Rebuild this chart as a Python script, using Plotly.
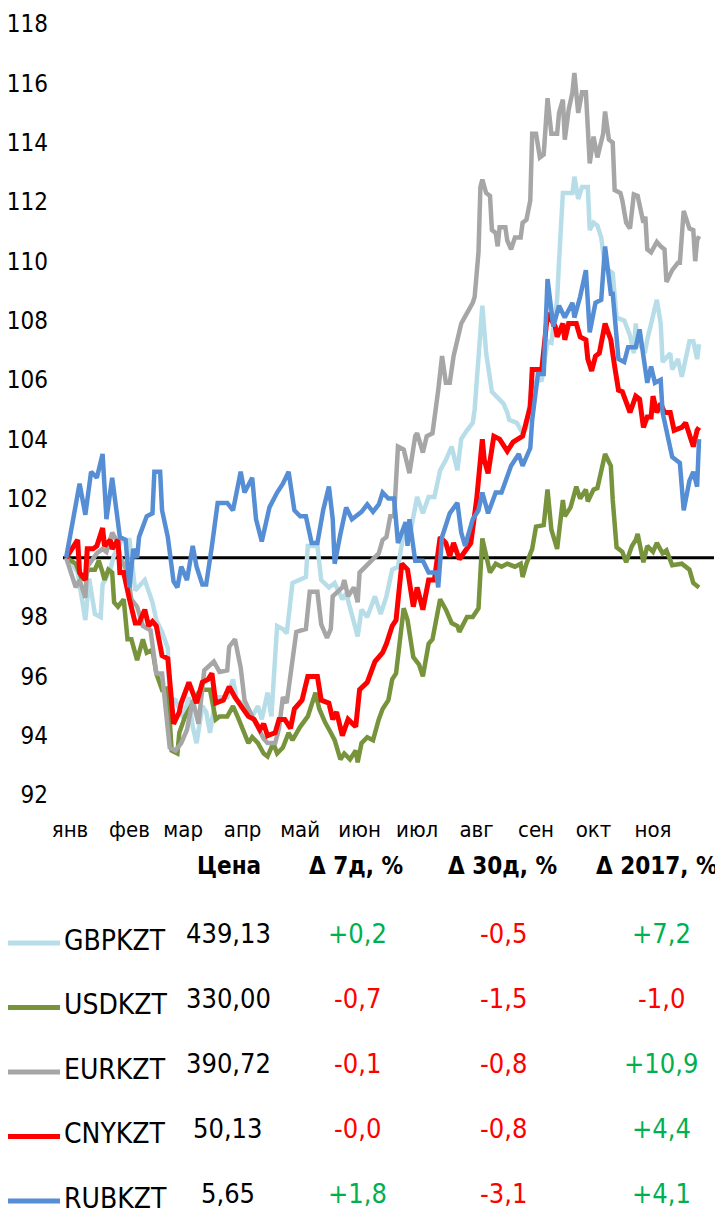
import pandas as pd
import plotly.graph_objects as go

# ---------------- data ----------------
BASE = pd.Timestamp("2017-01-01")   # day offsets below are days since 2017-01-01

months = ["янв", "фев", "мар", "апр", "май", "июн", "июл", "авг", "сен", "окт", "ноя"]
month_starts = ["2017-01-01", "2017-02-01", "2017-03-01", "2017-04-01", "2017-05-01", "2017-06-01",
                "2017-07-01", "2017-08-01", "2017-09-01", "2017-10-01", "2017-11-01"]
y_ticks = [92, 94, 96, 98, 100, 102, 104, 106, 108, 110, 112, 114, 116, 118]

gbp_day = [-2, 1, 4, 8, 10, 13, 16, 17, 21, 23, 27, 31, 34, 39, 43, 45, 48, 51, 52, 55,
           59, 62, 64, 66, 69, 71, 73, 76, 82, 85, 87, 92, 95, 98, 100, 103, 105, 108, 111, 113,
           116, 123, 124, 129, 131, 135, 138, 142, 144, 147, 150, 152, 155, 159, 162, 165, 168, 171, 175, 177,
           181, 184, 187, 190, 193, 196, 199, 202, 204, 207, 210, 211, 214, 215, 217, 220, 223, 226, 228, 229,
           233, 236, 238, 241, 246, 249, 251, 254, 255, 257, 262, 263, 265, 267, 270, 271, 273, 275, 277, 279,
           283, 285, 289, 292, 294, 295, 296, 300, 301, 304, 306, 308, 309, 313, 314, 317, 319, 323, 325, 327,
           328]
gbp_val = [100.0, 99.8, 99.5, 97.9, 99.3, 98.1, 98.0, 99.1, 99.6, 100.1, 100.6, 100.6, 98.9, 99.25, 98.5,
           97.9, 97.5, 96.95, 95.3, 95.2, 94.6, 95.3, 94.3, 93.75, 95.0, 94.8, 94.1, 95.3, 95.3, 95.9,
           95.2, 95.0, 94.65, 95.0, 94.55, 95.45, 94.65, 97.7, 97.6, 97.45, 99.15, 99.35, 100.4, 100.4, 99.25,
           99.0, 99.15, 98.6, 98.8, 98.0, 97.35, 98.25, 98.0, 98.7, 98.1, 98.7, 99.6, 99.7, 101.2, 100.7,
           102.05, 101.5, 102.05, 102.05, 102.95, 103.3, 103.75, 102.95, 104.0, 104.3, 104.55, 105.0, 108.0, 108.5, 106.9,
           105.6, 105.4, 105.2, 104.9, 104.65, 104.55, 104.2, 104.4, 105.9, 106.0, 107.3, 107.25, 108.7, 110.0, 112.3,
           112.3, 112.85, 112.1, 112.5, 112.5, 111.05, 111.3, 111.2, 110.8, 109.8, 109.6, 108.1, 108.0, 107.5, 106.9,
           107.9, 107.2, 107.0, 107.35, 108.1, 108.7, 107.9, 106.6, 106.9, 106.35, 106.7, 106.1, 107.3, 107.3, 106.7,
           107.2]

usd_day = [-2, 3, 6, 10, 13, 15, 17, 18, 20, 22, 23, 25, 28, 30, 32, 35, 38, 40, 43, 45,
           48, 51, 53, 56, 57, 60, 64, 67, 70, 73, 76, 78, 82, 85, 88, 90, 93, 95, 98, 101,
           103, 106, 108, 111, 114, 116, 120, 124, 128, 130, 133, 136, 138, 141, 143, 146, 149, 150, 152, 155,
           158, 161, 163, 166, 168, 170, 174, 176, 179, 182, 184, 187, 189, 193, 196, 199, 202, 203, 207, 210,
           213, 215, 217, 219, 222, 225, 228, 232, 235, 236, 238, 241, 243, 247, 249, 251, 254, 257, 258, 261,
           264, 266, 269, 270, 273, 275, 279, 282, 283, 285, 288, 290, 293, 295, 296, 299, 301, 304, 306, 309,
           311, 314, 319, 323, 325, 328]
usd_val = [100.0, 99.8, 99.3, 99.6, 99.6, 99.9, 99.5, 99.25, 99.6, 99.5, 98.5, 98.35, 98.6, 97.25, 97.25,
           96.55, 97.25, 96.8, 96.9, 96.1, 95.55, 95.6, 93.5, 93.4, 94.1, 94.65, 95.1, 95.45, 95.55, 95.55,
           94.55, 94.65, 94.65, 95.0, 94.55, 94.2, 93.75, 93.95, 93.75, 93.4, 93.3, 93.75, 93.4, 93.6, 94.1,
           93.85, 94.3, 94.65, 95.45, 94.9, 94.45, 94.1, 93.85, 93.2, 93.4, 93.2, 93.5, 93.1, 93.75, 93.95,
           93.85, 94.55, 94.9, 95.2, 95.9, 96.1, 98.3, 97.9, 96.65, 96.4, 96.0, 97.1, 97.25, 98.6, 98.25,
           97.8, 97.7, 97.5, 98.0, 98.0, 98.3, 100.65, 100.05, 99.5, 99.8, 99.7, 99.8, 99.7, 99.8, 99.35,
           99.8, 100.3, 101.05, 101.1, 102.3, 100.95, 100.3, 101.95, 101.4, 101.7, 102.4, 102.0, 102.3, 101.9, 102.3,
           102.35, 103.5, 103.1, 101.95, 100.35, 100.2, 99.85, 100.4, 100.6, 100.8, 99.85, 100.4, 100.2, 100.5, 100.15,
           100.25, 99.75, 99.8, 99.6, 99.15, 99.0]

eur_day = [-2, 3, 5, 8, 9, 14, 17, 19, 22, 25, 26, 30, 32, 35, 38, 42, 45, 48, 52, 55,
           58, 61, 64, 67, 70, 75, 78, 82, 83, 86, 89, 91, 95, 101, 103, 107, 109, 111, 113, 116,
           118, 123, 125, 129, 131, 134, 136, 137, 142, 143, 145, 148, 150, 151, 154, 158, 161, 163, 165, 167,
           169, 171, 174, 177, 180, 181, 184, 186, 189, 192, 194, 196, 198, 200, 202, 204, 207, 210, 211, 213,
           214, 215, 217, 219, 220, 222, 223, 224, 227, 228, 230, 232, 235, 236, 238, 240, 241, 243, 245, 247,
           248, 249, 251, 254, 255, 257, 258, 260, 262, 263, 265, 267, 269, 270, 271, 273, 275, 278, 279, 281,
           283, 284, 287, 288, 290, 292, 294, 296, 297, 299, 300, 301, 303, 306, 308, 310, 311, 314, 317, 318,
           320, 323, 325, 326, 327, 328]
eur_val = [100.0, 99.0, 99.25, 98.65, 99.7, 100.15, 100.3, 100.2, 100.85, 100.5, 100.05, 99.5, 98.6, 98.35, 97.7,
           97.55, 96.1, 96.1, 93.6, 93.5, 93.75, 94.2, 95.2, 94.4, 96.2, 96.5, 96.15, 96.2, 97.0, 97.25,
           96.3, 95.2, 94.65, 93.9, 93.75, 93.75, 94.25, 95.3, 95.1, 96.5, 97.5, 97.6, 98.85, 98.85, 97.75,
           97.3, 97.6, 98.7, 99.0, 99.25, 98.7, 99.0, 98.5, 99.5, 99.7, 99.95, 100.15, 100.6, 100.7, 101.4,
           101.4, 103.75, 103.65, 102.85, 104.1, 104.2, 103.55, 104.1, 104.2, 105.65, 106.8, 105.9, 105.9, 106.8, 107.35,
           107.9, 108.25, 108.6, 108.8, 110.3, 112.5, 112.75, 112.3, 112.2, 111.05, 110.95, 110.5, 111.15, 111.15, 110.7,
           110.4, 110.8, 110.8, 111.3, 111.4, 112.05, 114.3, 114.3, 113.5, 113.6, 114.55, 115.5, 114.3, 114.3, 115.0,
           115.45, 114.1, 115.1, 115.7, 116.35, 115.0, 115.7, 115.7, 114.3, 113.3, 114.2, 113.5, 114.3, 115.05, 114.1,
           114.0, 112.4, 112.3, 112.05, 111.3, 111.1, 112.25, 112.2, 111.85, 111.3, 111.5, 110.4, 110.3, 110.65, 110.5,
           110.4, 109.3, 109.7, 109.95, 109.95, 111.7, 111.1, 111.05, 110.0, 110.7, 110.85]

cny_day = [-2, 4, 5, 8, 9, 12, 14, 17, 18, 21, 22, 25, 26, 28, 31, 34, 36, 39, 41, 43,
           45, 48, 51, 54, 57, 58, 62, 66, 69, 72, 74, 76, 80, 83, 86, 90, 93, 96, 99, 101,
           103, 107, 109, 112, 115, 117, 121, 124, 129, 131, 135, 137, 139, 142, 145, 149, 151, 155, 159, 163,
           165, 168, 170, 173, 176, 179, 181, 184, 187, 190, 193, 196, 198, 200, 203, 209, 212, 215, 216, 218,
           221, 224, 228, 231, 236, 240, 241, 246, 249, 253, 254, 257, 258, 260, 264, 266, 269, 270, 272, 274,
           276, 279, 282, 284, 286, 288, 292, 295, 297, 299, 301, 303, 304, 306, 308, 310, 313, 315, 319, 321,
           323, 325, 327, 328]
cny_val = [100.0, 100.6, 99.5, 99.25, 100.3, 100.3, 100.4, 101.0, 100.4, 100.6, 100.3, 100.6, 99.5, 99.5, 98.6,
           97.8, 97.8, 98.25, 97.7, 97.85, 97.7, 96.7, 96.6, 94.4, 94.8, 95.1, 95.8, 95.1, 95.8, 95.9,
           96.1, 95.1, 95.2, 95.65, 95.3, 94.9, 94.65, 94.55, 94.2, 94.4, 94.0, 94.1, 94.55, 94.55, 94.25,
           94.9, 95.2, 96.0, 96.0, 95.2, 95.1, 94.55, 94.8, 94.0, 94.55, 94.3, 95.55, 95.8, 96.5, 96.8,
           97.1, 97.7, 97.9, 99.8, 99.6, 98.35, 99.0, 98.25, 99.25, 99.25, 100.7, 100.5, 100.05, 100.5, 99.95,
           100.5, 101.95, 104.0, 103.3, 102.85, 104.1, 104.0, 103.6, 103.9, 104.1, 105.1, 106.35, 106.35, 108.25, 107.8,
           107.45, 107.9, 107.35, 107.9, 107.9, 107.45, 107.35, 106.7, 106.3, 106.8, 106.9, 107.9, 107.35, 106.45, 105.65,
           105.6, 104.9, 105.45, 105.35, 104.4, 104.75, 104.75, 105.45, 104.9, 105.2, 104.9, 104.9, 104.3, 104.4, 104.55,
           104.2, 103.75, 104.3, 104.4]

rub_day = [-2, 5, 8, 11, 14, 17, 19, 22, 26, 29, 31, 33, 35, 36, 40, 43, 44, 47, 48, 51,
           54, 56, 58, 61, 64, 66, 69, 71, 74, 77, 82, 85, 89, 91, 95, 97, 100, 104, 108, 111,
           114, 117, 120, 123, 126, 129, 132, 135, 137, 138, 141, 144, 147, 152, 155, 158, 161, 163, 166, 169,
           171, 175, 176, 177, 180, 184, 187, 191, 192, 194, 198, 202, 204, 206, 210, 213, 215, 218, 222, 225,
           230, 234, 236, 240, 241, 244, 247, 249, 252, 255, 258, 262, 263, 266, 269, 271, 274, 277, 279, 282,
           283, 286, 289, 291, 295, 297, 300, 301, 303, 305, 308, 309, 314, 318, 320, 323, 325, 327, 328]
rub_val = [100.0, 102.5, 101.45, 102.9, 102.7, 103.5, 101.3, 102.7, 100.7, 100.6, 99.0, 100.3, 100.0, 100.7, 101.4,
           101.5, 102.9, 102.9, 101.6, 100.7, 99.2, 99.0, 99.7, 99.25, 100.4, 99.7, 99.1, 99.1, 100.4, 101.85,
           101.85, 101.6, 102.9, 102.2, 102.7, 101.3, 100.55, 101.7, 102.2, 102.5, 102.9, 101.6, 101.4, 101.4, 100.5,
           100.5, 101.6, 102.4, 101.3, 99.8, 100.8, 101.7, 101.3, 101.55, 101.8, 101.55, 101.8, 102.2, 102.0, 102.0,
           100.5, 101.2, 100.4, 101.3, 99.9, 99.9, 99.5, 99.5, 99.0, 100.7, 101.5, 101.85, 100.85, 100.4, 101.3,
           101.6, 102.2, 101.5, 102.2, 102.2, 103.1, 103.5, 103.1, 103.7, 104.65, 106.2, 106.2, 109.4, 107.8, 108.5,
           108.1, 108.6, 108.1, 108.8, 109.7, 107.6, 108.6, 108.7, 110.5, 108.9, 108.9, 106.7, 106.6, 107.1, 107.1,
           107.7, 106.35, 105.9, 106.45, 105.9, 106.0, 104.9, 103.4, 103.2, 101.6, 102.6, 102.9, 102.4, 104.0]

# table
names = ["GBPKZT", "USDKZT", "EURKZT", "CNYKZT", "RUBKZT"]
prices = ["439,13", "330,00", "390,72", "50,13", "5,65"]
chg_7d = ["+0,2", "-0,7", "-0,1", "-0,0", "+1,8"]
chg_30d = ["-0,5", "-1,5", "-0,8", "-0,8", "-3,1"]
chg_ytd = ["+7,2", "-1,0", "+10,9", "+4,4", "+4,1"]
headers = ["Цена", "Δ 7д, %", "Δ 30д, %", "Δ 2017, %"]

colors = ["#B7DEE8", "#77933C", "#A6A6A6", "#FF0000", "#558ED5"]
widths = [4.5, 4.5, 4.5, 5, 4.5]
GREEN, RED = "#00B050", "#FF0000"
FONT = "Liberation Sans Narrow, Arial Narrow, DejaVu Sans Condensed, sans-serif"

# ---------------- figure ----------------
# the page body has an 8px default margin: figure is sized so that it fills the window
OFF = 8
W, H = 723 - OFF, 1217 - OFF
ML, MR, MT, MB = 63 - OFF, 9, 24 - OFF, 422
PW, PH = W - ML - MR, H - MT - MB


def to_dates(days):
    return [BASE + pd.Timedelta(days=d) for d in days]


def px(x):          # screen pixel x -> paper x
    return (x - OFF - ML) / PW


def py(y):          # screen pixel y -> paper y
    return (H - MB - (y - OFF)) / PH


fig = go.Figure()
series = [(gbp_day, gbp_val), (usd_day, usd_val), (eur_day, eur_val), (cny_day, cny_val), (rub_day, rub_val)]
for i, (d, v) in enumerate(series):
    fig.add_trace(go.Scatter(x=to_dates(d), y=v, mode="lines", name=names[i],
                             line=dict(color=colors[i], width=widths[i]), showlegend=False))

shapes = [dict(type="line", xref="paper", x0=0, x1=1, yref="y", y0=100, y1=100,
               line=dict(color="black", width=3), layer="below")]
annotations = []

head_x = [229, 356, 502, 657]
for t, x in zip(headers, head_x):
    annotations.append(dict(text="<b>" + t + "</b>", x=px(x), y=py(866), xref="paper", yref="paper",
                            xanchor="center", yanchor="middle", showarrow=False,
                            font=dict(family=FONT, size=24, color="black")))


def sign_color(s):
    return GREEN if s.startswith("+") else RED


for i in range(len(names)):
    yv = 933 + 65 * i
    yl = 940 + 64.5 * i
    shapes.append(dict(type="line", xref="paper", yref="paper", x0=px(5), x1=px(60),
                       y0=py(yl + 3), y1=py(yl + 3), line=dict(color=colors[i], width=5)))
    annotations.append(dict(text=names[i], x=px(62), y=py(yl), xref="paper", yref="paper",
                            xanchor="left", yanchor="middle", showarrow=False,
                            font=dict(family=FONT, size=28, color="black")))
    annotations.append(dict(text=prices[i], x=px(228), y=py(yv), xref="paper", yref="paper",
                            xanchor="center", yanchor="middle", showarrow=False,
                            font=dict(family=FONT, size=27, color="black")))
    for vals, x in ((chg_7d, 357), (chg_30d, 503), (chg_ytd, 661)):
        annotations.append(dict(text=vals[i], x=px(x), y=py(yv), xref="paper", yref="paper",
                                xanchor="center", yanchor="middle", showarrow=False,
                                font=dict(family=FONT, size=27, color=sign_color(vals[i]))))

x_lo = BASE + pd.Timedelta(days=-3.65)
x_hi = BASE + pd.Timedelta(days=335.8)

fig.update_layout(
    width=W, height=H,
    margin=dict(l=ML, r=MR, t=MT, b=MB, autoexpand=False),
    paper_bgcolor="white", plot_bgcolor="white",
    font=dict(family=FONT, size=23, color="black"),
    shapes=shapes, annotations=annotations,
    xaxis=dict(type="date", range=[x_lo, x_hi], tickvals=month_starts, ticktext=months,
               showgrid=False, zeroline=False, showline=False, ticks="",
               tickfont=dict(family=FONT, size=22, color="black"), ticklabelstandoff=19),
    yaxis=dict(range=[92, 118], tickvals=y_ticks, showgrid=False, zeroline=False, showline=False,
               ticks="", tickfont=dict(family=FONT, size=24, color="black"), ticklabelstandoff=14),
)

fig.write_html("out.html")
